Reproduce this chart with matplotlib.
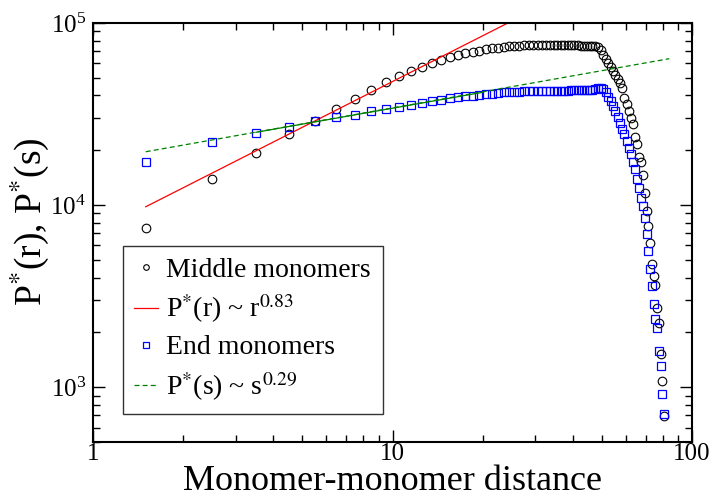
import matplotlib
matplotlib.use('Agg')
import matplotlib.pyplot as plt
import numpy as np
from matplotlib.ticker import LogFormatterMathtext, FixedLocator, FixedFormatter

plt.rcParams['font.family'] = 'serif'
plt.rcParams['font.serif'] = ['Liberation Serif', 'DejaVu Serif']
plt.rcParams['mathtext.fontset'] = 'stix'

# monomer-monomer distance (same grid for both series)
dist = np.arange(1.5, 81.0, 1.0)

# middle monomers P*(r)
middle = [7500, 13960, 19300, 24550, 29040, 33560, 38390, 42850, 47400, 51000,
          54700, 57300, 60300, 62700, 64900, 66600, 68200, 69400, 70500, 71600,
          72500, 73300, 74000, 74400, 74800, 75100, 75300, 75600, 75800, 75900,
          76000, 76100, 76000, 75900, 75800, 75800, 75700, 75700, 75500, 75400,
          75300, 75100, 75000, 74900, 74900, 74800, 74600, 74100, 71060, 66710,
          63420, 60060, 57090, 54480, 51790, 49040, 46630, 43770, 38580, 35750,
          32850, 30180, 27760, 23720, 21550, 18420, 17160, 14620, 11680, 9300,
          7665, 6160, 4740, 4074, 3634, 2727, 2239, 1518, 1079, 695]

# end monomers P*(s)
end = [17200, 22270, 24870, 26730, 28840, 30340, 31330, 32700, 33680, 34540,
       35500, 36300, 37100, 38000, 38500, 39200, 39500, 39900, 40300, 40700,
       41000, 41300, 41600, 41800, 41900, 42000, 42100, 42200, 42200, 42300,
       42300, 42400, 42400, 42400, 42500, 42500, 42500, 42500, 42600, 42600,
       42600, 42700, 42700, 42800, 42900, 43100, 43500, 43900, 44000, 43390,
       41930, 39360, 37270, 35120, 32850, 30560, 28110, 26060, 24450, 22470,
       20640, 19060, 17230, 15710, 13840, 12450, 10880, 9875, 8450, 6930,
       5588, 4433, 3575, 2858, 2363, 2101, 1577, 1299, 915, 710]

# power-law fits (end points of straight lines on log-log axes)
fit_r_x = [1.5, 26.0]
fit_r_y = [9790, 105900]
fit_s_x = [1.5, 84.0]
fit_s_y = [19630, 63700]
fit_s_solid_x = [3.5, 20.0]
fit_s_solid_y = [25100, 41620]

fig = plt.figure(figsize=(7.11, 5.0), dpi=100)
ax = fig.add_axes([0.1308, 0.116, 0.8425, 0.838])

ax.plot(dist, middle, 'o', mfc='none', mec='black', ms=6.2, mew=0.8,
        label='Middle monomers')
ax.plot(fit_r_x, fit_r_y, '-', color='#ff0000', lw=0.9,
        label=r'P$^{*}$(r) ~ r$^{0.83}$')
ax.plot(dist, end, 's', mfc='none', mec='#0000ff', ms=5.6, mew=0.9,
        label='End monomers')
ax.plot(fit_s_x, fit_s_y, '--', color='#008000', lw=0.9, dashes=(4, 2.5),
        label=r'P$^{*}$(s) ~ s$^{0.29}$')
ax.plot(fit_s_solid_x, fit_s_solid_y, '-', color='#008000', lw=0.9)

ax.set_xscale('log')
ax.set_yscale('log')
ax.set_xlim(1, 100)
ax.set_ylim(500, 1e5)

ax.xaxis.set_major_locator(FixedLocator([1, 10, 100]))
ax.xaxis.set_major_formatter(FixedFormatter(['1', '10', '100']))
ax.yaxis.set_major_formatter(LogFormatterMathtext())

ax.tick_params(which='both', direction='in', top=True, right=True,
               labelsize=18, pad=5)
ax.tick_params(axis='x', pad=0.5)
ax.tick_params(which='major', length=8.5, width=1.0)
ax.tick_params(which='minor', length=5, width=1.0)
for sp in ax.spines.values():
    sp.set_linewidth(1.5)

ax.set_xlabel('Monomer-monomer distance', fontsize=26, labelpad=0)
ax.set_ylabel(r'P$^{*}$(r), P$^{*}$(s)', fontsize=27)
ax.yaxis.set_label_coords(-0.07, 0.526)

leg = ax.legend(loc='lower left', bbox_to_anchor=(0.0496, 0.0661),
                borderaxespad=0, fontsize=20, frameon=True, fancybox=False,
                edgecolor='black', handlelength=0.85, handletextpad=0.3,
                markerscale=0.65, labelspacing=0.35, borderpad=0.42)
leg.get_frame().set_linewidth(1.0)

fig.savefig('out.png', dpi=100)
